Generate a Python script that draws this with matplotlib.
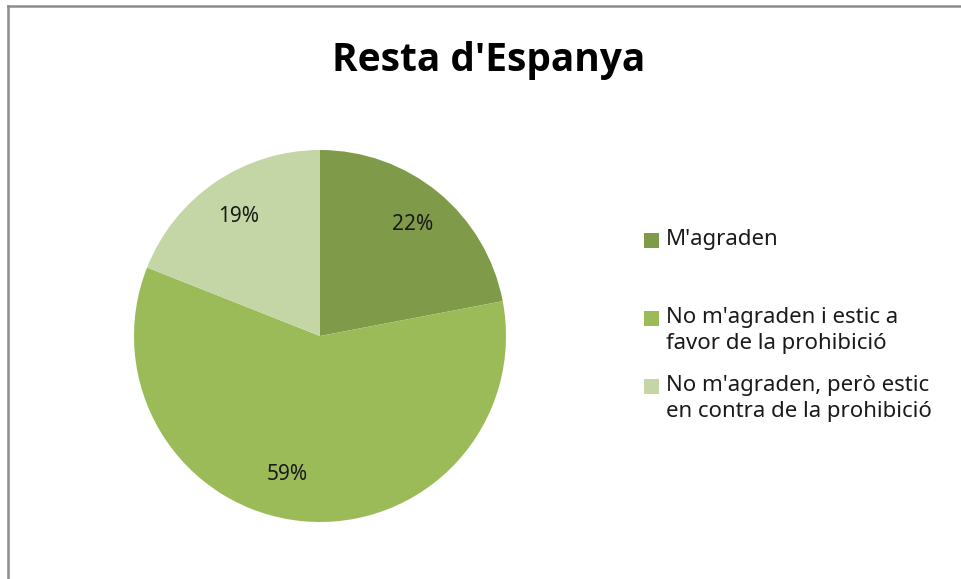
import numpy as np
import matplotlib
matplotlib.use('Agg')
import matplotlib.pyplot as plt
from matplotlib.lines import Line2D
from matplotlib.patches import Rectangle

# data
labels = ["M'agraden",
          "No m'agraden i estic a\nfavor de la prohibició",
          "No m'agraden, però estic\nen contra de la prohibició"]
values = [22, 59, 19]
colors = ["#7F9A48", "#9BBB59", "#C4D6A6"]
title = "Resta d'Espanya"

W, H = 962, 579
fig = plt.figure(figsize=(W / 100, H / 100), dpi=100, facecolor='white')

# pie: centre (320,336) px, radius 186 px
cx, cy, r = 320, 336, 186
ax = fig.add_axes([(cx - r) / W, (H - cy - r) / H, 2 * r / W, 2 * r / H])
wedges, texts, autotexts = ax.pie(
    values, colors=colors, startangle=90, counterclock=False,
    autopct='%1.0f%%', pctdistance=0.78,
    wedgeprops=dict(linewidth=0),
    textprops=dict(fontsize=15, family='Noto Sans', color='#1a1a1a'))
# Excel "best fit" nudges the big slice's label a little to the left
w = wedges[1]
ang = np.deg2rad((w.theta1 + w.theta2) / 2 - 8)
autotexts[1].set_position((0.765 * np.cos(ang), 0.765 * np.sin(ang)))
ax.set_xlim(-1, 1); ax.set_ylim(-1, 1)
ax.set_aspect('equal')
ax.axis('off')

fig.text(489 / W, 1 - 61 / H, title, ha='center', va='center',
         fontsize=28, fontweight='bold', family='Open Sans', color='black')

# legend (manual, square aligned with first line like Excel)
tops = [233, 311, 379]
for lab, col, t in zip(labels, colors, tops):
    fig.add_artist(Rectangle((644 / W, 1 - (t + 15) / H), 15 / W, 15 / H,
                             transform=fig.transFigure, facecolor=col, edgecolor='none'))
    fig.text(666 / W, 1 - (t - 4) / H, lab, ha='left', va='top',
             fontsize=16, family='Noto Sans', color='#1a1a1a', linespacing=1.3)

# chart frame (top and left edges visible)
fig.add_artist(Line2D([8 / W, 1], [1 - 6 / H, 1 - 6 / H], transform=fig.transFigure,
                      color='#8C8C8C', lw=1.8))
fig.add_artist(Line2D([8 / W, 8 / W], [0, 1 - 6 / H], transform=fig.transFigure,
                      color='#8C8C8C', lw=1.8))

fig.savefig('out.png', dpi=100, facecolor='white')
